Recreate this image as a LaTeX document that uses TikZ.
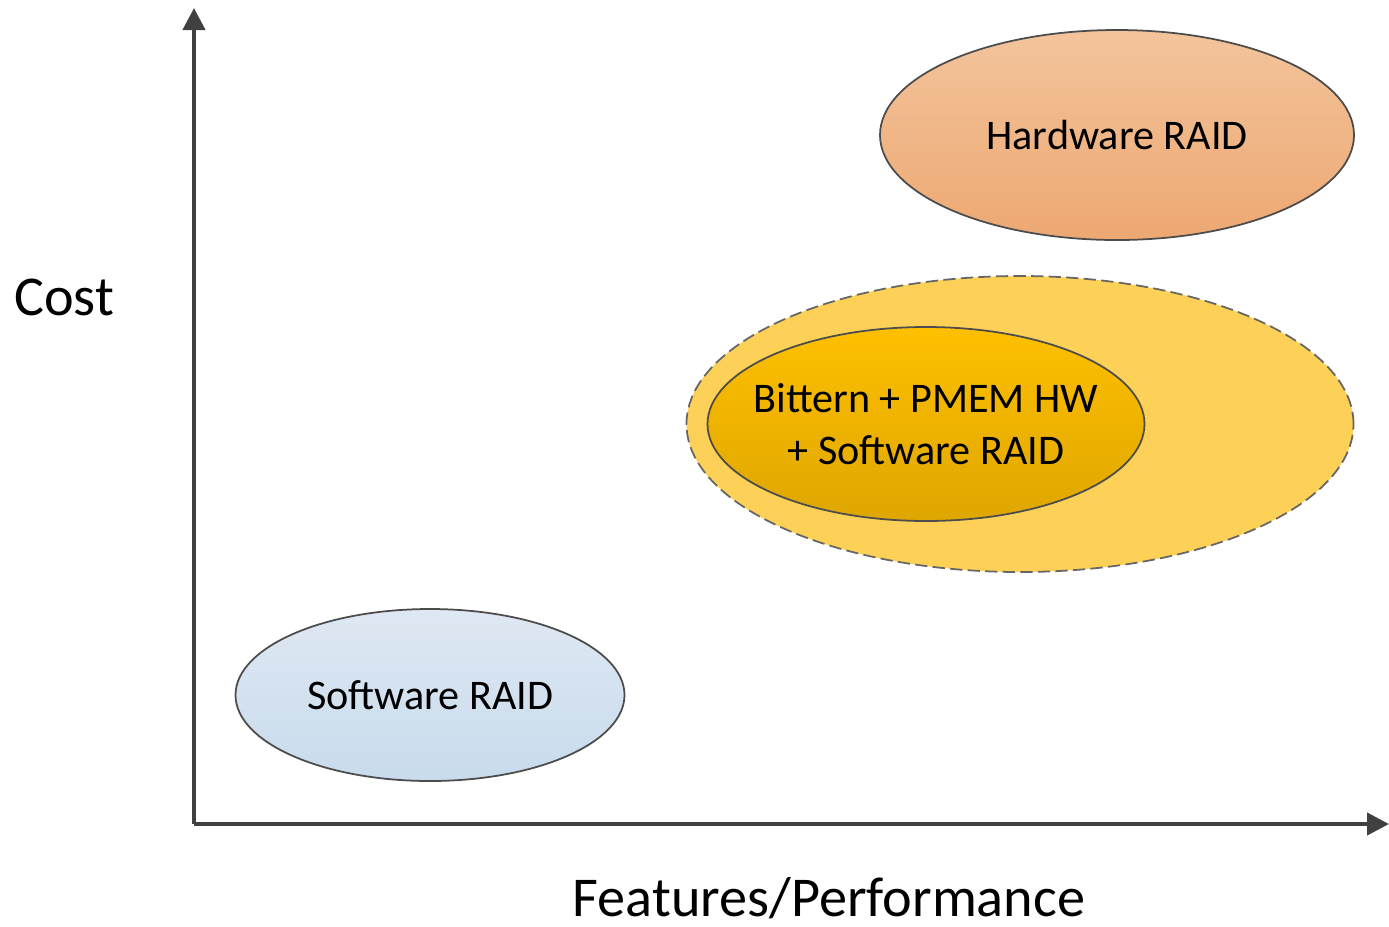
\documentclass[tikz,border=0pt]{standalone}
\usepackage{fontspec}
\setmainfont{Carlito}
\usetikzlibrary{shapes.geometric,arrows.meta}
\definecolor{axisgray}{HTML}{404040}
\definecolor{hwtop}{HTML}{F3C49C}
\definecolor{hwbot}{HTML}{EDA872}
\definecolor{outerfill}{HTML}{FDD157}
\definecolor{innertop}{HTML}{FFC000}
\definecolor{innerbot}{HTML}{DEA600}
\definecolor{swtop}{HTML}{DFE8F3}
\definecolor{swbot}{HTML}{C8DBEC}
\tikzset{
  blob/.style={ellipse,draw=black!70,line width=0.5pt,inner sep=0pt,font=\fontsize{12}{15}\selectfont,align=center},
  axislabel/.style={font=\fontsize{16}{19}\selectfont},
}

\begin{document}
\begin{tikzpicture}
        \useasboundingbox (0,0) rectangle (13.89,-9.26);
        % axes
        \coordinate (o) at (1.94,-8.24);
        \coordinate (ytop) at (1.94,-0.08);
        \coordinate (xend) at (13.89,-8.24);
        \draw [-{Triangle[length=0.22cm,width=0.22cm]},line width=1.2pt,axisgray] (o)--(ytop);
        \draw [-{Triangle[length=0.22cm,width=0.22cm]},line width=1.2pt,axisgray] (o)--(xend);
        \node [axislabel] (cost) at (0.64,-2.97) {Cost};
        \node [axislabel] (feat) at (8.29,-8.98) {Features/Performance};
        % regions
        \node [blob,minimum width=4.74cm,minimum height=2.10cm,top color=hwtop,bottom color=hwbot] (hw) at (11.17,-1.35) {Hardware RAID};
        \node [blob,minimum width=6.67cm,minimum height=2.96cm,fill=outerfill,draw=black!60,dash pattern=on 3.5pt off 1.5pt] (outer) at (10.20,-4.24) {};
        \node [blob,minimum width=4.37cm,minimum height=1.94cm,top color=innertop,bottom color=innerbot,
               label={[align=center,font=\fontsize{12}{15}\selectfont]center:Bittern + PMEM HW\\+ Software RAID}] (bittern) at (9.26,-4.24) {};
        \node [blob,minimum width=3.89cm,minimum height=1.72cm,top color=swtop,bottom color=swbot] (sw) at (4.30,-6.95) {Software RAID};
      \end{tikzpicture}
\end{document}
